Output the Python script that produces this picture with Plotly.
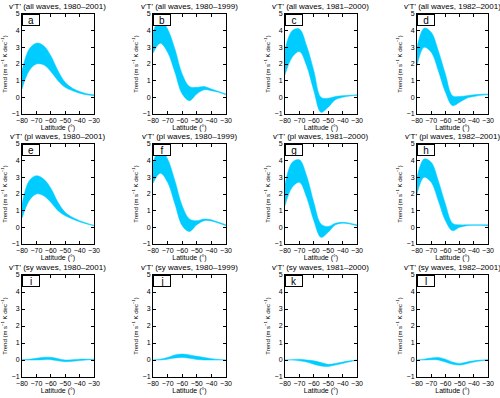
import plotly.graph_objects as go

lat = [-80, -75, -70, -65, -60, -55, -50, -45, -40, -35, -30]

titles = [
    "v'T' (all waves, 1980–2001)", "v'T' (all waves, 1980–1999)",
    "v'T' (all waves, 1981–2000)", "v'T' (all waves, 1982–2001)",
    "v'T' (pl waves, 1980–2001)", "v'T' (pl waves, 1980–1999)",
    "v'T' (pl waves, 1981–2000)", "v'T' (pl waves, 1982–2001)",
    "v'T' (sy waves, 1980–2001)", "v'T' (sy waves, 1980–1999)",
    "v'T' (sy waves, 1981–2000)", "v'T' (sy waves, 1982–2001)",
]
letters = ["a", "b", "c", "d", "e", "f", "g", "h", "i", "j", "k", "l"]

# upper / lower edge of the trend range for each panel
a_up = [1.6, 2.9, 3.25, 3.1, 2.5, 1.6, 0.9, 0.55, 0.35, 0.22, 0.15]
a_lo = [0.5, 1.6, 2.0, 1.95, 1.55, 1.0, 0.6, 0.4, 0.25, 0.15, 0.1]
b_up = [3.9, 4.7, 4.1, 2.9, 1.4, 0.65, 0.6, 0.65, 0.5, 0.35, 0.2]
b_lo = [2.65, 3.25, 2.7, 1.5, 0.2, -0.2, 0.2, 0.45, 0.4, 0.3, 0.15]
c_up = [2.9, 4.0, 4.1, 3.1, 1.6, 0.0, -0.05, 0.05, 0.1, 0.12, 0.15]
c_lo = [1.35, 2.4, 2.75, 1.9, 0.4, -0.9, -0.6, -0.15, 0.0, 0.08, 0.12]
d_up = [3.0, 4.15, 3.9, 2.8, 1.4, 0.1, 0.05, 0.1, 0.15, 0.18, 0.2]
d_lo = [1.9, 3.0, 2.7, 1.6, 0.3, -0.5, -0.3, -0.05, 0.05, 0.12, 0.15]
e_up = [1.4, 2.8, 3.1, 2.9, 2.35, 1.5, 0.9, 0.6, 0.4, 0.25, 0.12]
e_lo = [0.55, 1.6, 2.0, 1.9, 1.5, 1.0, 0.7, 0.5, 0.33, 0.2, 0.1]
f_up = [3.9, 4.7, 4.1, 2.8, 1.3, 0.5, 0.4, 0.5, 0.45, 0.3, 0.15]
f_lo = [2.65, 3.25, 2.7, 1.4, 0.1, -0.25, 0.15, 0.4, 0.38, 0.25, 0.1]
g_up = [2.6, 3.9, 4.05, 3.1, 1.5, 0.2, 0.05, 0.25, 0.3, 0.25, 0.15]
g_lo = [1.3, 2.4, 2.7, 1.8, 0.4, -0.6, -0.3, 0.15, 0.25, 0.2, 0.1]
h_up = [3.0, 4.1, 3.9, 2.8, 1.4, 0.25, 0.15, 0.15, 0.15, 0.15, 0.15]
h_lo = [2.0, 3.0, 2.7, 1.6, 0.4, -0.2, 0.0, 0.1, 0.12, 0.12, 0.1]
i_up = [0.02, 0.04, 0.1, 0.16, 0.16, 0.08, 0.0, 0.02, 0.05, 0.05, 0.05]
i_lo = [0.0, 0.0, 0.0, 0.02, 0.02, -0.05, -0.1, -0.08, -0.03, 0.0, 0.02]
j_up = [0.0, 0.05, 0.15, 0.3, 0.35, 0.3, 0.22, 0.15, 0.08, 0.03, 0.0]
j_lo = [0.0, 0.0, 0.05, 0.12, 0.15, 0.1, 0.03, 0.0, 0.0, 0.0, 0.0]
k_up = [0.0, 0.02, 0.05, 0.0, -0.05, -0.15, -0.25, -0.2, -0.12, -0.05, 0.0]
k_lo = [0.0, 0.0, -0.05, -0.12, -0.25, -0.35, -0.38, -0.3, -0.2, -0.1, -0.02]
l_up = [0.0, 0.05, 0.12, 0.15, 0.05, -0.12, -0.2, -0.12, -0.05, 0.0, 0.02]
l_lo = [0.0, 0.0, 0.02, 0.0, -0.12, -0.25, -0.3, -0.22, -0.12, -0.05, 0.0]

uppers = [a_up, b_up, c_up, d_up, e_up, f_up, g_up, h_up, i_up, j_up, k_up, l_up]
lowers = [a_lo, b_lo, c_lo, d_lo, e_lo, f_lo, g_lo, h_lo, i_lo, j_lo, k_lo, l_lo]

W, H = 500, 398
col_px = [(22, 94), (153, 226), (285, 357), (417, 488)]
row_px = [(14, 114), (144, 244), (275, 377)]

band = "rgb(0,204,255)"
font = "Liberation Sans, Arial, sans-serif"

fig = go.Figure()
boxes = []
heads = []
for n in range(12):
    r, c = divmod(n, 4)
    ax = "" if n == 0 else str(n + 1)
    xa, ya = "x" + ax, "y" + ax
    fig.add_trace(go.Scatter(x=lat, y=lowers[n], mode="lines", line=dict(color=band, width=0.5, shape="spline"),
                             xaxis=xa, yaxis=ya, showlegend=False, hoverinfo="skip"))
    fig.add_trace(go.Scatter(x=lat, y=uppers[n], mode="lines", fill="tonexty", fillcolor=band,
                             line=dict(color=band, width=0.5, shape="spline"),
                             xaxis=xa, yaxis=ya, showlegend=False, hoverinfo="skip"))
    x0, x1 = col_px[c][0] / W, col_px[c][1] / W
    y0, y1 = 1 - row_px[r][1] / H, 1 - row_px[r][0] / H
    common = dict(showline=True, linecolor="black", linewidth=1, mirror="ticks", ticks="inside",
                  ticklen=3, tickcolor="black", showgrid=False, zeroline=False, automargin=False,
                  tickangle=0, tickfont=dict(size=7, family=font, color="black"))
    fig.update_layout({
        "xaxis" + ax: dict(domain=[x0, x1], range=[-80, -30], dtick=10, anchor=ya,
                           title=dict(text="Latitude (°)", font=dict(size=7, family=font, color="black"), standoff=1),
                           **common),
        "yaxis" + ax: dict(domain=[y0, y1], range=[-1, 5], dtick=1, anchor=xa,
                           title=dict(text="Trend (m s<sup>−1</sup> K dec<sup>−1</sup>)",
                                      font=dict(size=6, family=font, color="black"), standoff=3),
                           **common),
    })
    boxes.append(dict(text=letters[n], x=x0, y=y1, xref="paper", yref="paper",
                      xanchor="left", yanchor="top", showarrow=False, width=16, height=10,
                      bgcolor="white", bordercolor="black", borderwidth=1, borderpad=0,
                      font=dict(size=10, family=font, color="black")))
    heads.append(dict(text=titles[n], x=(x0 + x1) / 2, y=y1, xref="paper", yref="paper",
                      xanchor="center", yanchor="bottom", yshift=1, showarrow=False,
                      font=dict(size=8, family=font, color="black")))

fig.update_layout(width=W, height=H, margin=dict(l=0, r=0, t=0, b=0), template="none",
                  plot_bgcolor="white", paper_bgcolor="white", annotations=boxes + heads)

# page body has a default margin; drop it so the figure fills the window
fig.write_html("out.html", config={"displayModeBar": False},
               post_script="document.body.style.margin='0';document.body.style.overflow='hidden';")
